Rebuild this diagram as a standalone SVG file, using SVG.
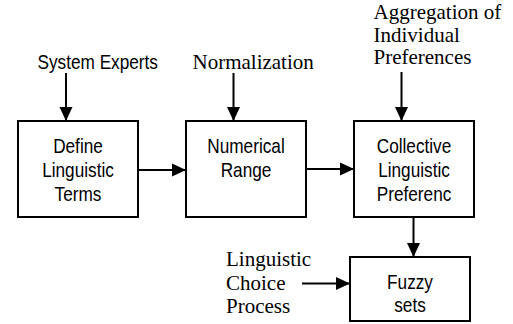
<svg xmlns="http://www.w3.org/2000/svg" width="513" height="324" viewBox="0 0 513 324">
<style>
.box{fill:#fff;stroke:#000;stroke-width:2}
.ar{font-family:"Liberation Sans",Arial,sans-serif;font-size:21px;fill:#000}
.tm{font-family:"Liberation Serif","Times New Roman",serif;font-size:21px;fill:#000}
.ln{stroke:#000;stroke-width:2;fill:none;marker-end:url(#ah)}
</style>
<defs>
<marker id="ah" markerUnits="userSpaceOnUse" markerWidth="14" markerHeight="14" refX="14" refY="7" orient="auto" viewBox="0 0 14 14">
<path d="M0,0.5 L14,7 L0,13.5 Z" fill="#000"/>
</marker>
</defs>
<rect width="513" height="324" fill="#fff"/>
<g id="connectors">
<line class="ln" x1="66" y1="73" x2="66" y2="121"/>
<line class="ln" x1="233.5" y1="73" x2="233.5" y2="121"/>
<line class="ln" x1="401.5" y1="72" x2="401.5" y2="121"/>
<line class="ln" x1="138" y1="170" x2="186" y2="170"/>
<line class="ln" x1="306" y1="169" x2="354" y2="169"/>
<line class="ln" x1="413.5" y1="217" x2="413.5" y2="257"/>
<line class="ln" x1="302" y1="283.5" x2="350" y2="283.5"/>
</g>
<g id="label-system-experts">
<text class="ar" transform="translate(37.5,69) scale(0.82,1)">System Experts</text>
</g>
<g id="label-normalization">
<text class="tm" x="192.5" y="69">Normalization</text>
</g>
<g id="label-aggregation">
<text class="tm" x="373.5" y="19">Aggregation of</text>
<text class="tm" x="373.5" y="41.5">Individual</text>
<text class="tm" x="373.5" y="64">Preferences</text>
</g>
<g id="label-choice">
<text class="tm" x="226" y="266">Linguistic</text>
<text class="tm" x="226" y="289.5">Choice</text>
<text class="tm" x="226" y="313">Process</text>
</g>
<g id="node-define">
<rect class="box" x="18" y="121" width="120" height="96"/>
<text class="ar" text-anchor="middle" transform="translate(78,152.5) scale(0.82,1)">Define</text>
<text class="ar" text-anchor="middle" transform="translate(78,176.5) scale(0.82,1)">Linguistic</text>
<text class="ar" text-anchor="middle" transform="translate(78,200.5) scale(0.82,1)">Terms</text>
</g>
<g id="node-numerical">
<rect class="box" x="186" y="121" width="120" height="96"/>
<text class="ar" text-anchor="middle" transform="translate(246,152.5) scale(0.82,1)">Numerical</text>
<text class="ar" text-anchor="middle" transform="translate(246,176.5) scale(0.82,1)">Range</text>
</g>
<g id="node-collective">
<rect class="box" x="354" y="121" width="120" height="96"/>
<text class="ar" text-anchor="middle" transform="translate(414,152.5) scale(0.82,1)">Collective</text>
<text class="ar" text-anchor="middle" transform="translate(414,176.5) scale(0.82,1)">Linguistic</text>
<text class="ar" text-anchor="middle" transform="translate(414,200.5) scale(0.82,1)">Preferenc</text>
</g>
<g id="node-fuzzy">
<rect class="box" x="350" y="257" width="120" height="64"/>
<text class="ar" text-anchor="middle" transform="translate(410,289) scale(0.82,1)">Fuzzy</text>
<text class="ar" text-anchor="middle" transform="translate(410,311.5) scale(0.82,1)">sets</text>
</g>
</svg>
